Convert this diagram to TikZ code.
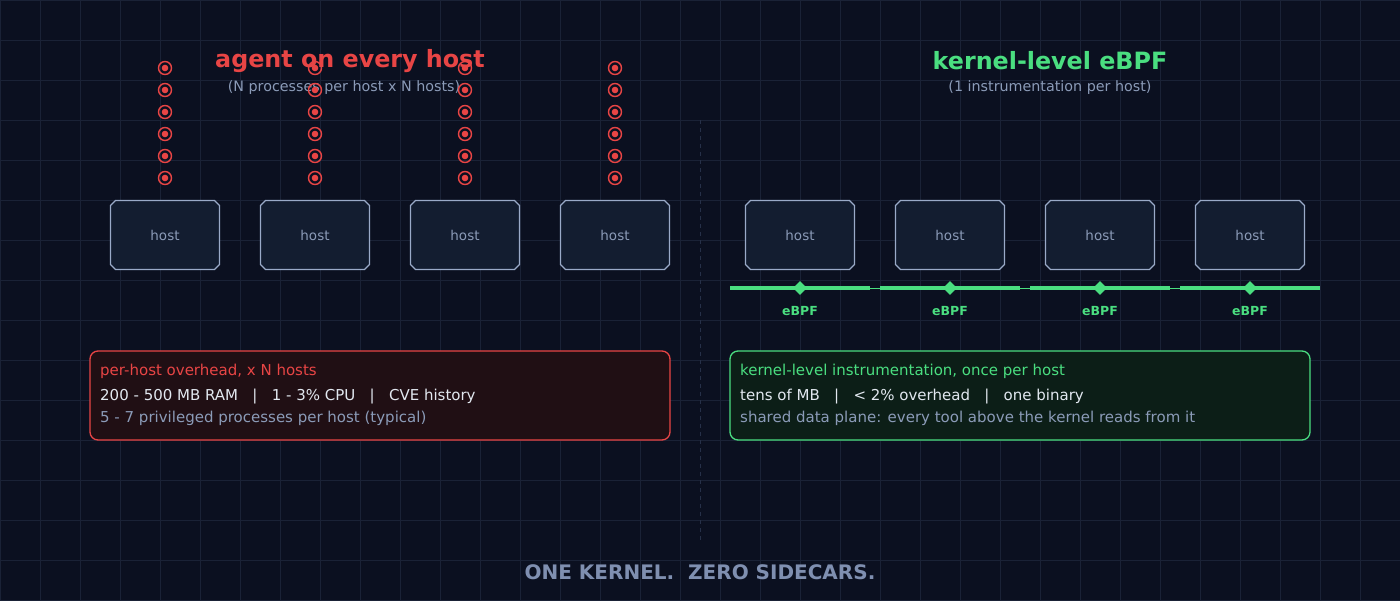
\documentclass[tikz,border=0pt]{standalone}
\usepackage{fontspec}
\setmainfont{DejaVu Sans}
\usetikzlibrary{shapes.misc,shapes.geometric}
\definecolor{bg}{HTML}{0B1020}
\definecolor{gridc}{HTML}{1A2236}
\definecolor{divc}{HTML}{263048}
\definecolor{red1}{HTML}{E84545}
\definecolor{grn}{HTML}{4ADE80}
\definecolor{mut}{HTML}{8B9BB8}
\definecolor{wht}{HTML}{E2E8F0}
\definecolor{hostf}{HTML}{131D30}
\definecolor{hosts}{HTML}{9AAAC8}
\definecolor{redf}{HTML}{200F14}
\definecolor{grnf}{HTML}{0C1E17}
\definecolor{foot}{HTML}{7F8FB0}
\newcommand{\fs}[1]{\fontsize{#1}{#1}\selectfont}
\begin{document}
\begin{tikzpicture}[x=1pt,y=-1pt,
  host/.style={chamfered rectangle,chamfered rectangle corners=all,chamfered rectangle xsep=2.5pt,chamfered rectangle ysep=2.5pt,draw=hosts,line width=1.3pt,fill=hostf,minimum width=109pt,minimum height=69pt,inner sep=0pt,text=mut,font=\fs{13.5}},
  agent/.style={circle,draw=red1,line width=1.4pt,minimum size=13pt,inner sep=0pt,path picture={\fill[red1] (path picture bounding box.center) circle (3.3pt);}},
  probe/.style={diamond,fill=grn,minimum size=14pt,inner sep=0pt},
  lbl/.style={text=grn,font=\bfseries\fs{12.5}},
  tx/.style={anchor=west,inner sep=0pt},
  box/.style={rounded corners=8pt,line width=1.3pt}]
\fill[bg] (0,0) rectangle (1400,600);
\useasboundingbox (0,0) rectangle (1400,600);
\foreach \k in {0,40,...,1400} \draw[gridc,line width=0.8pt] (\k,0) -- (\k,600);
\foreach \k in {0,40,...,600} \draw[gridc,line width=0.8pt] (0,\k) -- (1400,\k);
\draw[divc,dash pattern=on 4pt off 4pt] (700,120) -- (700,540);
% titles
\node[text=red1,font=\bfseries\fs{23.8}] (t1) at (350,61) {agent on every host};
\node[text=mut,font=\fs{14.3}] (s1) at (344,88) {(N processes per host x N hosts)};
\node[text=grn,font=\bfseries\fs{23.8}] (t2) at (1050,61) {kernel-level eBPF};
\node[text=mut,font=\fs{14.3}] (s2) at (1050,88) {(1 instrumentation per host)};
% left hosts
\foreach \i/\x in {1/165,2/315,3/465,4/615}{
  \node[host] (L\i) at (\x,235) {host};
  \foreach \j/\y in {1/68,2/90,3/112,4/134,5/156,6/178}
    \node[agent] (a\i\j) at (\x,\y) {};
}
% right hosts
\draw[grn,line width=1pt] (730,288) -- (1320,288);
\foreach \i/\x in {1/800,2/950,3/1100,4/1250}{
  \node[host] (R\i) at (\x,235) {host};
  \coordinate (ea\i) at (\x-70,288);
  \coordinate (eb\i) at (\x+70,288);
  \draw[grn,line width=3.5pt] (ea\i) -- (eb\i);
  \node[probe] (p\i) at (\x,288) {};
  \node[lbl] (e\i) at (\x,311) {eBPF};
}
% boxes
\draw[box,draw=red1,fill=redf] (90,351) rectangle (670,440);
\node[tx,text=red1,font=\fs{15}] (b1a) at (100,371) {per-host overhead, x N hosts};
\node[tx,text=wht,font=\fs{15}] (b1b) at (100,397) {200 - 500 MB RAM\ \ \ |\ \ \ 1 - 3\% CPU\ \ \ |\ \ \ CVE history};
\node[tx,text=mut,font=\fs{15}] (b1c) at (100,418) {5 - 7 privileged processes per host (typical)};
\draw[box,draw=grn,fill=grnf] (730,351) rectangle (1310,440);
\node[tx,text=grn,font=\fs{15}] (b2a) at (740,371) {kernel-level instrumentation, once per host};
\node[tx,text=wht,font=\fs{15}] (b2b) at (740,397) {tens of MB\ \ \ |\ \ \ < 2\% overhead\ \ \ |\ \ \ one binary};
\node[tx,text=mut,font=\fs{15}] (b2c) at (740,418) {shared data plane: every tool above the kernel reads from it};
\node[text=foot,font=\bfseries\fs{20}] (ft) at (700,572) {ONE KERNEL.\ \ ZERO SIDECARS.};
\end{tikzpicture}
\end{document}
